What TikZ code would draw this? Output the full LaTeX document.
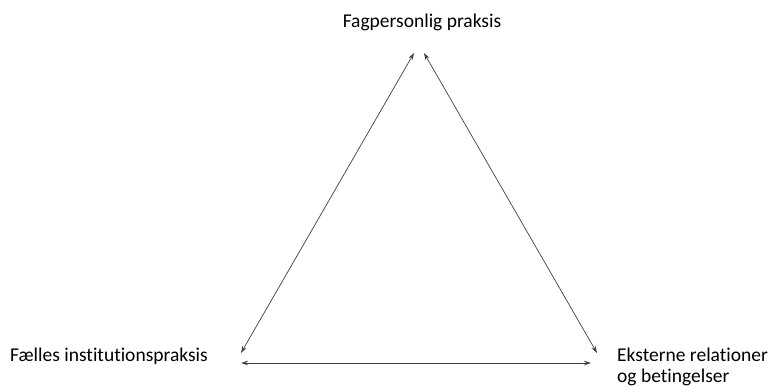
\documentclass[tikz,border=0pt]{standalone}
\usepackage{fontspec}
\setmainfont{Carlito}[Ligatures=NoCommon]
\usetikzlibrary{arrows.meta}
\begin{document}
\begin{tikzpicture}[x=1pt,y=-1pt,
  lbl/.style={inner sep=0pt,font=\fontsize{19.5}{21.5}\selectfont,text=black},
  link/.style={draw=black!75,line width=0.7pt,{Stealth[length=7pt,width=4.5pt]}-{Stealth[length=7pt,width=4.5pt]}}]
\useasboundingbox (0,0) rectangle (772,386);
\node[lbl,anchor=base] (top) at (422,27) {Fagpersonlig praksis};
\node[lbl,anchor=base west] (left) at (10,361) {Fælles institutionspraksis};
\node[lbl,anchor=base west,align=left] (right) at (617,382.5) {Eksterne relationer\\og betingelser};
\coordinate (tl) at (414,53);
\coordinate (tr) at (424,53);
\coordinate (lt) at (241,353);
\coordinate (lb) at (241,363);
\coordinate (rt) at (597,353);
\coordinate (rb) at (591,363);
\draw[link] (lt) -- (tl);
\draw[link] (tr) -- (rt);
\draw[link] (lb) -- (rb);
\end{tikzpicture}
\end{document}
